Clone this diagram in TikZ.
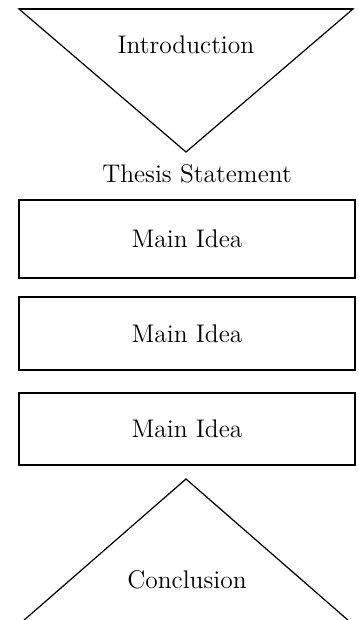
\documentclass[tikz,border=0pt]{standalone}
\usetikzlibrary{positioning}

\begin{document}
\begin{tikzpicture}[x=0.02cm,y=-0.02cm,
  ideabox/.style={draw, line width=1.1pt, minimum width=6.72cm, minimum height=#1, anchor=north west, font=\fontsize{14.5}{17}\selectfont},
  label/.style={font=\fontsize{14.5}{17}\selectfont},
  funnel/.style={draw, line width=0.7pt, line join=miter}]
\clip (0,0) rectangle (359,620);

\draw[funnel] (19,9) -- (353,9) -- (186,152) -- cycle;
\draw[line width=1.1pt] (19,9) -- (353,9);
\node[label] (intro) at (186,45) {Introduction};
\node[label] (thesis) at (197,174) {Thesis Statement};

\node[ideabox=1.56cm] (idea1) at (18,199) {Main Idea};
\node[ideabox=1.46cm] (idea2) at (18,296) {Main Idea};
\node[ideabox=1.44cm] (idea3) at (18,392) {Main Idea};

\draw[funnel] (15,628) -- (186,479) -- (357,628);
\node[label] (concl) at (187,580) {Conclusion};

\end{tikzpicture}
\end{document}
